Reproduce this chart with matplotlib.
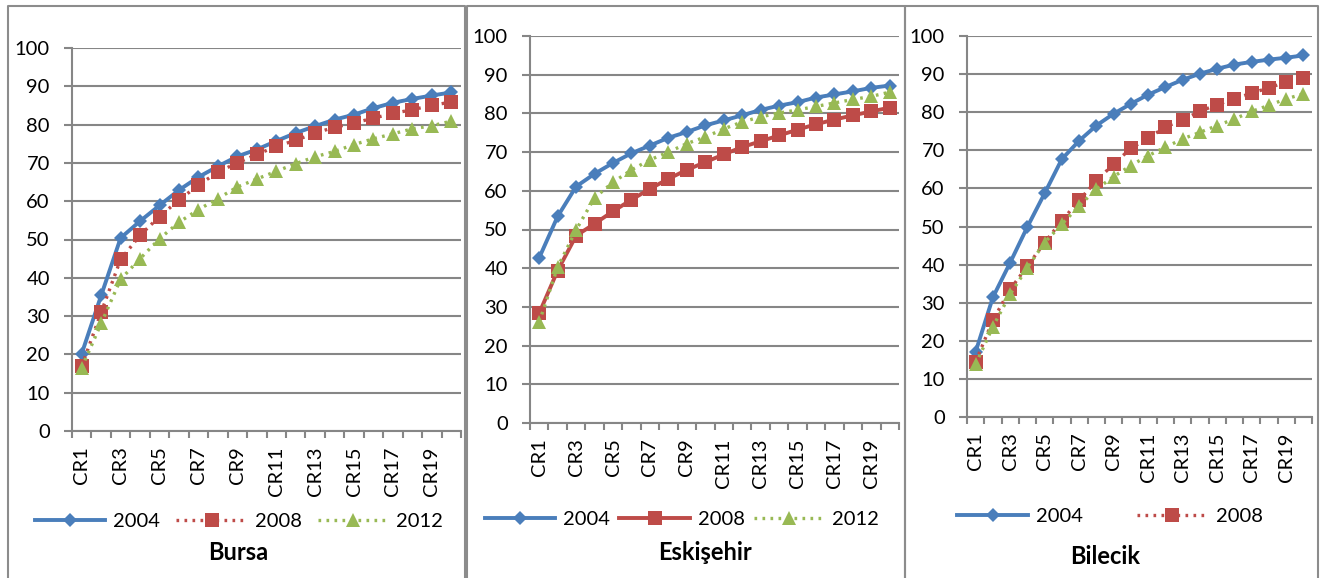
import numpy as np
import matplotlib
matplotlib.use('Agg')
import matplotlib.pyplot as plt
from matplotlib.lines import Line2D

plt.rcParams['font.family'] = ['Lato', 'DejaVu Sans']

categories = ['CR%d' % i for i in range(1, 21)]
years = ['2004', '2008', '2012']

bursa_2004 = [20.2, 35.4, 50.4, 54.8, 58.9, 62.9, 66.3, 69.1, 71.7, 73.5,
              75.7, 77.8, 79.6, 81.3, 82.6, 84.3, 85.7, 86.7, 87.6, 88.4]
bursa_2008 = [16.9, 31.0, 44.8, 51.1, 56.0, 60.3, 64.2, 67.6, 70.0, 72.2,
              74.3, 75.9, 77.8, 79.3, 80.4, 81.7, 82.9, 83.9, 85.0, 85.9]
bursa_2012 = [16.5, 28.1, 39.6, 45.0, 50.2, 54.5, 57.8, 60.7, 63.7, 65.8,
              67.8, 69.8, 71.6, 73.0, 74.8, 76.3, 77.6, 78.9, 79.7, 80.9]

eski_2004 = [42.7, 53.4, 61.1, 64.4, 67.2, 69.7, 71.7, 73.7, 75.2, 76.9,
             78.2, 79.5, 80.9, 82.0, 82.9, 84.1, 84.9, 85.7, 86.6, 87.2]
eski_2008 = [28.4, 39.4, 48.4, 51.5, 54.7, 57.7, 60.5, 63.1, 65.4, 67.4,
             69.4, 71.3, 72.8, 74.3, 75.8, 77.2, 78.4, 79.5, 80.5, 81.5]
eski_2012 = [26.1, 40.3, 49.9, 58.2, 62.2, 65.4, 68.0, 70.0, 72.2, 73.9,
             76.0, 77.8, 79.1, 80.1, 80.9, 81.8, 82.7, 83.6, 84.4, 85.5]

bile_2004 = [17.1, 31.4, 40.5, 49.9, 58.7, 67.7, 72.5, 76.5, 79.6, 82.2,
             84.6, 86.6, 88.5, 90.1, 91.4, 92.5, 93.2, 93.8, 94.3, 94.9]
bile_2008 = [14.5, 25.4, 33.5, 39.6, 45.8, 51.5, 56.9, 62.0, 66.4, 70.5,
             73.2, 76.1, 78.0, 80.2, 82.0, 83.5, 85.0, 86.4, 87.9, 89.0]
bile_2012 = [13.8, 23.7, 32.2, 39.2, 45.8, 50.6, 55.4, 59.8, 63.1, 66.0,
             68.6, 70.8, 73.0, 74.7, 76.5, 78.2, 80.2, 81.8, 83.5, 84.8]

blue = '#4A7EBB'
red = '#BE4B48'
green = '#98B954'
grid_c = '#868686'
dot = (0, (0.8, 1.6))

W, H = 1321, 578
fig = plt.figure(figsize=(W / 100, H / 100), dpi=100)


def px_axes(left, right, top, bottom):
    return fig.add_axes([left / W, 1 - bottom / H, (right - left) / W, (bottom - top) / H])


panels = [
    dict(box=(72, 461, 48, 431), name='Bursa', data=(bursa_2004, bursa_2008, bursa_2012),
         styles=('-', dot, dot), leg=(239, 521), leg_n=3, colsp=0.8, title=(238, 553)),
    dict(box=(530, 899, 36, 423), name='Eskişehir', data=(eski_2004, eski_2008, eski_2012),
         styles=('-', '-', dot), leg=(682, 519), leg_n=3, colsp=0.45, title=(705, 553)),
    dict(box=(967, 1312, 36, 417), name='Bilecik', data=(bile_2004, bile_2008, bile_2012),
         styles=('-', dot, dot), leg=(1110, 516), leg_n=2, colsp=2.7, title=(1105, 556)),
]

x = np.arange(len(categories))
colors = [blue, red, green]
markers = ['D', 's', '^']
msizes = [7, 10, 10.5]

for p in panels:
    ax = px_axes(*p['box'])
    handles = []
    for vals, c, m, ms, ls, yr in zip(p['data'], colors, markers, msizes, p['styles'], years):
        lw = 2.8 if ls == '-' else 2.4
        h, = ax.plot(x, vals, color=c, marker=m, markersize=ms, linestyle=ls,
                     linewidth=lw, markeredgewidth=0, label=yr, zorder=3)
        handles.append(h)
    ax.set_xlim(-0.5, 19.5)
    ax.set_ylim(0, 100)
    ax.set_yticks(range(0, 101, 10))
    ax.yaxis.grid(True, color=grid_c, linewidth=1.5)
    ax.set_axisbelow(True)
    for s in ['top', 'right']:
        ax.spines[s].set_visible(False)
    for s in ['left', 'bottom']:
        ax.spines[s].set_color(grid_c)
        ax.spines[s].set_linewidth(1.5)
    ax.tick_params(axis='y', length=6, width=1.5, color=grid_c, labelsize=14.5, pad=10)
    ax.set_xticks(x[::2])
    ax.set_xticklabels(categories[::2], rotation=90)
    ax.set_xticks(np.arange(-0.5, 20, 1), minor=True)
    ax.tick_params(axis='x', which='major', length=0, labelsize=14.5, pad=11)
    ax.tick_params(axis='x', which='minor', length=5, width=1.5, color=grid_c)
    ax.legend(handles=handles[:p['leg_n']], loc='center', ncol=p['leg_n'],
              bbox_to_anchor=(p['leg'][0] / W, 1 - p['leg'][1] / H),
              bbox_transform=fig.transFigure, frameon=False, fontsize=14.5,
              handlelength=3.5, handletextpad=0.4, columnspacing=p['colsp'],
              borderaxespad=0, borderpad=0)
    fig.text(p['title'][0] / W, 1 - p['title'][1] / H, p['name'], ha='center', va='center',
             fontsize=17, fontweight='bold')

# panel borders
for x0, x1 in [(8, 465), (467, 905), (905, 1318)]:
    fig.add_artist(Line2D([x0 / W, x0 / W, x1 / W, x1 / W], [0, 1 - 6 / H, 1 - 6 / H, 0],
                          transform=fig.transFigure, color='#8C8C8C', linewidth=1.5))

fig.savefig('out.png', dpi=100)
